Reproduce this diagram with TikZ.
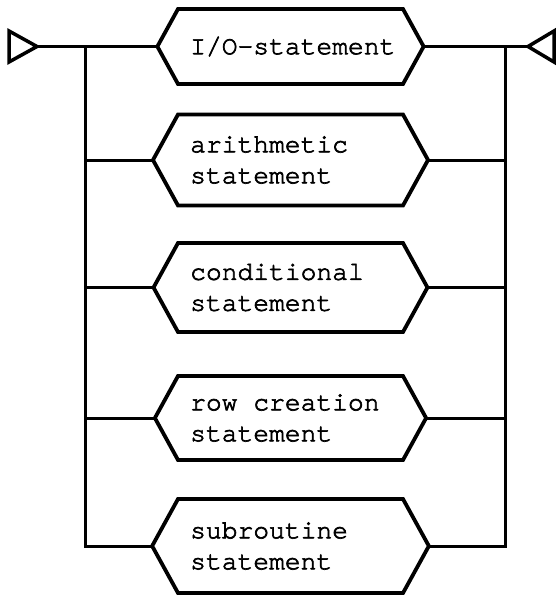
\documentclass[tikz,border=0pt]{standalone}
\usepackage{fontspec}
\newfontfamily\courfont{TeX Gyre Cursor}[FakeBold=2.5]
\newcommand\courset{\courfont\fontsize{26.3}{31}\selectfont
  \fontdimen2\font=0.6em\relax
  \fontdimen3\font=0pt\relax
  \fontdimen4\font=0pt\relax}
\usetikzlibrary{calc}
\tikzset{
  lbl/.style={draw=none, inner sep=0pt, align=left, anchor=west, font=\courset},
  hexline/.style={line width=3.8pt, line join=miter},
  wire/.style={line width=3pt},
  tri/.style={line width=3.5pt, line join=miter}
}
% #1 node name, #2 half height
\newcommand\hexaround[2]{%
  \draw[hexline] ($(#1.west)+(-12,-#2)$) -- ($(#1.west)+(213,-#2)$)
    -- ($(#1.west)+(213+#2*0.55,0)$) coordinate (#1r)
    -- ($(#1.west)+(213,#2)$) -- ($(#1.west)+(-12,#2)$)
    -- ($(#1.west)+(-12-#2*0.55,0)$) coordinate (#1l) -- cycle;}
\begin{document}
\begin{tikzpicture}[x=1pt,y=-1pt]
\useasboundingbox (0,0) rectangle (556,598);
\node[lbl] (h1) at (190,46.5) {I/O-statement};
\node[lbl] (h2) at (190,160) {arithmetic\\statement};
\node[lbl] (h3) at (190,287.5) {conditional\\statement};
\node[lbl] (h4) at (190,418) {row creation\\statement};
\node[lbl] (h5) at (190,546) {subroutine\\statement};
\hexaround{h1}{37.5}
\hexaround{h2}{45.5}
\hexaround{h3}{44.5}
\hexaround{h4}{42}
\hexaround{h5}{47}
\coordinate (start) at (37,46.5);
\coordinate (end) at (528,46.5);
\draw[tri] (9,31) -- (start) -- (9,62) -- cycle;
\draw[tri] (554,31) -- (end) -- (554,62) -- cycle;
\coordinate (bl) at (85,46.5);
\coordinate (br) at (505,46.5);
\draw[wire] (start) -- (h1l);
\draw[wire] (h1r) -- (end);
\draw[wire] (bl) -- (bl |- h5l) -- (h5l);
\draw[wire] (br) -- (br |- h5r) -- (h5r);
\foreach \n in {h2,h3,h4} {
  \draw[wire] (bl |- \n l) -- (\n l);
  \draw[wire] (\n r) -- (br |- \n r);
}
\end{tikzpicture}
\end{document}
